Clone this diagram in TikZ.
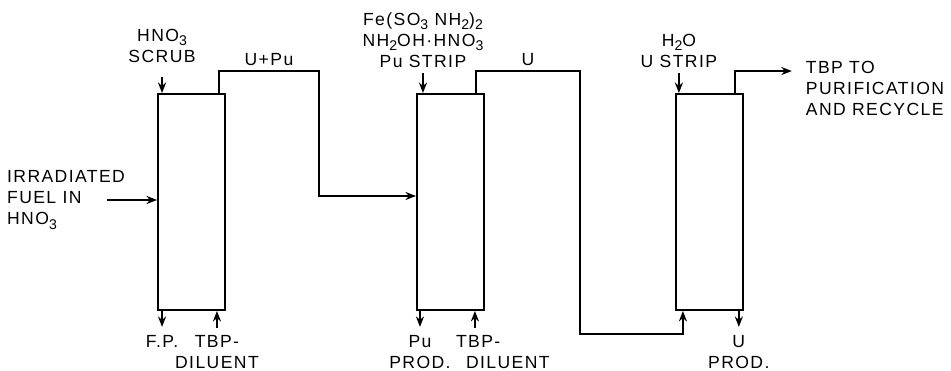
\documentclass[tikz,border=0pt]{standalone}
\usepackage{fontspec}
\setmainfont{Liberation Sans}[LetterSpace=8]
\usetikzlibrary{arrows.meta, positioning}
\newcommand{\chemsub}[1]{\raisebox{-0.45ex}{\fontsize{8}{8}\selectfont #1}}

\begin{document}
\begin{tikzpicture}[font=\fontsize{10}{12}\selectfont, >={Stealth[length=6pt, width=4.6pt]}, node distance=3.8cm,
    column/.style={draw, line width=1.1pt, minimum width=1.34cm, minimum height=4.32cm, inner sep=0pt},
    flow/.style={->, line width=0.95pt},
    lbl/.style={align=center, inner sep=1pt}]
    \useasboundingbox (0,0) rectangle (19.02,7.42);
    \node[column] (col1) at (3.83,3.38) {};
    \node[column, right=of col1] (col2) {};
    \node[column, right=of col2] (col3) {};

    % first column: feed, scrub, raffinate
    \coordinate (fuelin) at ([xshift=-1cm, yshift=0.04cm]col1.west);
    \node[lbl, align=left, left=-0.4cm of fuelin] (fuel) {IRRADIATED\\FUEL IN\\HNO\chemsub{3}};
    \draw[flow] (fuelin) -- (fuelin -| col1.west);
    \coordinate (scrubin) at ([xshift=0.1cm]col1.north west);
    \node[lbl, above=0.56cm of scrubin] (scrub) {HNO\chemsub{3}\\SCRUB};
    \draw[flow, shorten <=0.24cm] (scrub) -- (scrubin);
    \coordinate (fpout) at ([xshift=0.1cm]col1.south west);
    \node[lbl, below=0.44cm of fpout] (fp) {F.P.};
    \draw[flow, shorten >=0.12cm] (fpout) -- (fp);
    \coordinate (tbp1in) at ([xshift=-0.18cm]col1.south east);
    \node[lbl, below=0.44cm of tbp1in] (tbp1) {TBP-\\DILUENT};
    \draw[flow, shorten <=0.1cm] (tbp1) -- (tbp1in);
    \draw[flow] ([xshift=-0.14cm]col1.north east) -- ++(0,0.44)
        -| node[pos=0.25, above=-1pt] (upu) {U+Pu} ([xshift=1.86cm, yshift=0.12cm]col1.east)
        -- ([yshift=0.12cm]col2.west);

    % second column: Pu strip
    \coordinate (stripin) at ([xshift=0.14cm]col2.north west);
    \node[lbl, above=0.46cm of stripin] (pustrip) {Fe(SO\chemsub{3} NH\chemsub{2})\chemsub{2}\\NH\chemsub{2}OH·HNO\chemsub{3}\\Pu STRIP};
    \draw[flow, shorten <=0.06cm] (pustrip) -- (stripin);
    \coordinate (puout) at ([xshift=0.08cm]col2.south west);
    \node[lbl, below=0.44cm of puout] (puprod) {Pu\\PROD.};
    \draw[flow, shorten >=0.12cm] (puout) -- (puprod);
    \coordinate (tbp2in) at ([xshift=-0.2cm]col2.south east);
    \node[lbl, align=left, below=0.44cm of tbp2in, xshift=0.56cm] (tbp2) {TBP-\\\hspace{0.2cm}DILUENT};
    \draw[flow, shorten <=0.1cm] (tbp2in |- tbp2.north) -- (tbp2in);
    \draw[flow] ([xshift=-0.18cm]col2.north east) -- ++(0,0.44)
        -| node[pos=0.25, above=-1pt] (u) {U} ([xshift=1.9cm, yshift=-0.46cm]col2.south east)
        -| ([xshift=0.16cm]col3.south west);

    % third column: U strip
    \coordinate (h2oin) at ([xshift=0.08cm]col3.north west);
    \node[lbl, above=0.46cm of h2oin] (ustrip) {H\chemsub{2}O\\U STRIP};
    \draw[flow, shorten <=0.06cm] (ustrip) -- (h2oin);
    \coordinate (uout) at ([xshift=-0.1cm]col3.south east);
    \node[lbl, below=0.44cm of uout] (uprod) {U\\PROD.};
    \draw[flow, shorten >=0.12cm] (uout) -- (uprod);
    \coordinate (tbpout) at ([xshift=0.96cm, yshift=0.44cm]col3.north east);
    \draw[flow] ([xshift=-0.18cm]col3.north east) |- (tbpout);
    \node[lbl, align=left, anchor=north west] (recycle) at ([xshift=0.24cm, yshift=0.24cm]tbpout) {TBP TO\\PURIFICATION\\AND RECYCLE};
\end{tikzpicture}
\end{document}
